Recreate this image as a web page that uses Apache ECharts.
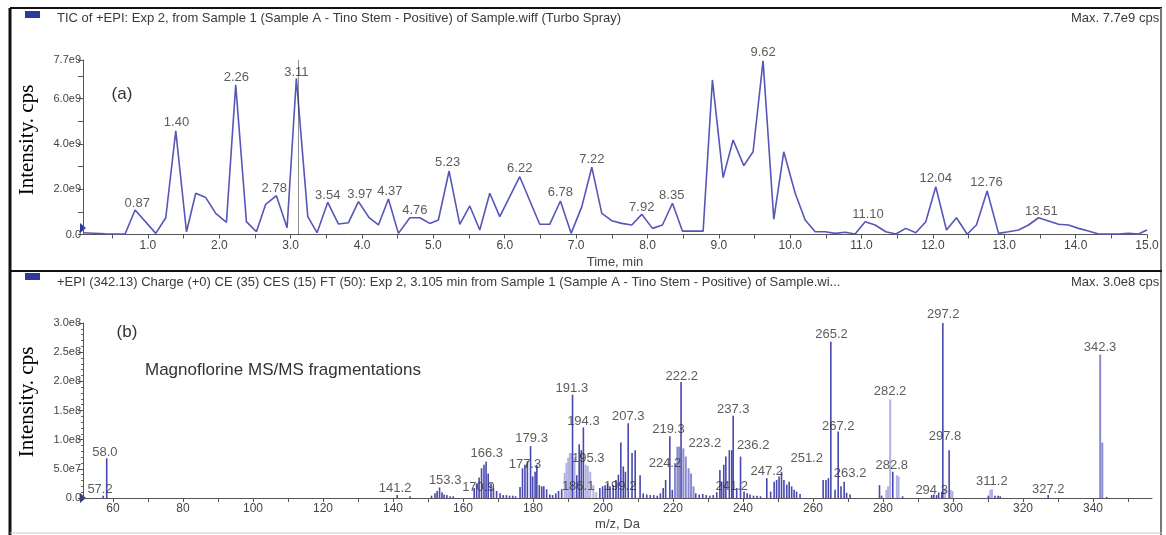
<!DOCTYPE html>
<html><head><meta charset="utf-8">
<script src="https://cdn.jsdelivr.net/npm/echarts@6/dist/echarts.min.js"></script>
<style>html,body{margin:0;padding:0;background:#fff}#c{width:1166px;height:535px}</style>
</head><body><div id="c"></div>
<script>
// ---------- Panel (a): TIC chromatogram (intensity in 1e9 cps) ----------
const ticTime = [0.09,0.40,0.68,0.82,1.11,1.25,1.39,1.54,1.67,1.81,1.95,2.10,2.23,2.38,2.52,2.65,2.80,2.95,3.08,3.24,3.37,3.52,3.67,3.81,3.95,4.10,4.23,4.37,4.51,4.67,4.81,4.95,5.07,5.22,5.37,5.51,5.65,5.79,5.93,6.21,6.49,6.63,6.78,6.93,7.08,7.22,7.36,7.50,7.64,7.78,7.92,8.07,8.21,8.35,8.49,8.63,8.78,8.91,9.06,9.20,9.35,9.48,9.62,9.77,9.91,10.07,10.21,10.35,10.49,10.63,10.77,10.91,11.05,11.19,11.34,11.48,11.62,11.76,11.90,12.04,12.19,12.33,12.48,12.61,12.76,12.92,13.06,13.20,13.34,13.48,13.62,13.76,13.90,14.04,14.18,14.32,14.46,14.60,14.74,14.88,15.00];
const ticIntensity = [0.08,0.03,0.02,1.08,0.05,0.74,4.57,0.12,1.82,1.63,0.93,0.54,6.60,0.57,0.12,1.33,1.71,0.30,6.89,0.79,0.08,1.42,0.46,0.52,1.45,0.74,0.42,1.57,0.05,0.74,0.74,0.49,0.64,2.80,0.45,1.26,0.20,1.82,0.79,2.55,0.45,0.45,1.48,0.05,1.23,2.97,0.93,0.61,0.49,0.42,0.89,0.27,0.42,1.38,0.15,0.15,0.15,6.82,2.51,4.17,3.04,3.65,7.66,0.67,3.65,1.82,0.64,0.12,0.12,0.05,0.10,0.02,0.56,0.42,0.12,0.02,0.27,0.08,0.56,2.11,0.20,0.74,0.01,0.42,1.92,0.05,0.12,0.20,0.42,0.74,0.60,0.45,0.42,0.27,0.15,0.02,0.02,0.02,0.05,0.02,0.20];
const ticPeakText = ['0.87','1.40','2.26','2.78','3.11','3.54','3.97','4.37','4.76','5.23','6.22','6.78','7.22','7.92','8.35','9.62','11.10','12.04','12.76','13.51'];
const ticPeakTime = [0.85,1.40,2.24,2.77,3.08,3.52,3.97,4.39,4.74,5.20,6.21,6.78,7.22,7.92,8.34,9.62,11.09,12.04,12.75,13.52];
const ticPeakLabelY = [1.39,4.93,6.92,2.05,7.13,1.71,1.79,1.89,1.08,3.16,2.93,1.84,3.33,1.21,1.71,8.02,0.90,2.49,2.29,1.04];
const ticXLabels = [1,2,3,4,5,6,7,8,9,10,11,12,13,14,15];
const ticYLabels = [0,2,4,6,7.7];
const selectedRT = 3.105;

// ---------- Panel (b): MS/MS spectrum (intensity in 1e7 cps) ----------
const darkMz = [57.2,58.2,141.2,144.9,151.0,152.0,152.6,153.3,154.0,154.6,155.4,156.3,157.2,
 163.2,163.9,164.6,165.3,166.0,166.6,167.2,168.0,168.7,169.6,170.6,171.5,172.4,173.3,174.2,175.0,
 176.3,177.0,177.7,178.4,179.3,179.9,180.6,181.1,181.8,182.5,183.1,183.9,184.8,185.6,186.5,187.3,188.2,
 191.3,192.5,193.2,193.8,194.4,199.1,199.9,200.6,201.3,202.0,202.9,203.7,204.4,205.1,205.8,206.4,207.2,208.3,209.2,210.6,211.5,212.5,213.5,214.5,215.5,216.4,
 217.2,217.9,219.1,219.8,222.3,226.5,227.5,228.5,229.5,230.5,231.5,232.5,
 233.4,233.9,234.5,235.1,236.1,236.8,237.2,238.2,239.3,240.3,241.2,242.0,243.0,244.0,245.0,
 246.8,247.9,248.9,249.6,250.3,251.0,251.7,252.5,253.2,253.9,254.6,255.3,256.3,
 262.9,263.7,264.4,265.1,266.3,267.2,268.0,268.9,269.6,270.6,279.0,279.6,282.8,285.6,
 293.9,294.5,295.3,295.9,296.8,297.1,298.9,310.1,312.0,312.9,313.5,327.2,343.9];
const darkInt = [0.4,6.8,0.5,0.3,0.4,0.8,1.2,1.8,1.0,0.6,0.5,0.3,0.3,
 1.7,2.5,3.5,5.1,5.7,6.2,4.2,2.5,1.7,1.2,0.8,0.5,0.5,0.4,0.4,0.3,
 1.9,5.1,5.7,6.3,8.9,3.7,4.5,5.7,2.2,2.0,2.0,1.5,0.6,0.5,0.8,1.2,1.5,
 17.7,3.9,9.2,8.2,12.1,1.7,2.0,2.2,2.5,2.0,2.2,3.1,4.0,9.5,5.4,4.5,12.8,7.7,8.2,3.9,0.8,0.6,0.5,0.5,0.4,0.8,
 1.7,3.1,10.6,1.4,19.9,0.8,0.6,0.7,0.5,0.4,0.5,1.0,
 4.8,2.8,5.7,7.1,8.2,8.2,14.1,1.7,7.1,1.1,0.8,0.6,0.4,0.4,0.3,
 3.4,1.1,2.8,3.1,3.7,4.5,3.1,2.3,2.8,2.0,1.4,1.1,0.7,
 3.1,3.1,3.4,26.8,1.4,11.4,2.0,2.8,0.9,0.6,2.2,0.4,4.5,0.3,
 0.5,0.6,0.5,0.8,1.0,30.0,8.2,0.4,0.4,0.4,0.3,0.5,0.2];
const lightMz = [189.0,189.5,190.0,190.5,191.0,191.8,195.0,195.6,196.3,197.2,198.0,280.9,281.4,282.0,283.9,284.4,297.7,299.3,299.8,310.6,311.1];
const lightInt = [4.3,6.0,6.9,7.7,7.7,7.0,5.7,5.5,4.5,2.2,1.0,1.4,2.0,16.9,3.9,3.7,1.5,1.4,1.2,1.4,1.5];
const midMz = [220.5,221.2,221.7,222.9,223.6,224.4,225.1,225.8,342.0,342.6];
const midInt = [6.0,8.8,8.8,8.5,7.1,5.1,4.2,2.0,24.6,9.5];
const msPeakText = ['58.0','57.2','141.2','153.3','166.3','170.9','177.3','179.3','191.3','194.3','195.3','186.1','199.2','207.3','219.3','222.2','223.2','224.2','237.3','236.2','241.2','247.2','251.2','263.2','265.2','267.2','282.2','282.8','297.2','297.8','294.3','311.2','327.2','342.3'];
const msPeakMz = [57.7,56.3,140.6,154.9,166.8,164.4,177.7,179.6,191.1,194.4,195.8,192.9,204.9,207.2,218.7,222.5,229.1,217.7,237.2,242.9,236.8,246.8,258.2,270.6,265.3,267.2,282.0,282.5,297.2,297.7,293.9,311.1,327.2,342.0];
const msPeakLabelY = [7.77,1.49,1.66,3.09,7.66,1.77,5.78,10.2,18.8,13.1,6.8,1.94,2.06,13.9,11.7,20.9,9.38,5.95,15.1,9.09,1.94,4.5,6.8,4.23,28.1,12.3,18.2,5.66,31.4,10.6,1.37,2.79,1.54,25.8];
const msXLabels = [60,80,100,120,140,160,180,200,220,240,260,280,300,320,340];
const msXTicks = [60,70,80,90,100,110,120,130,140,150,160,170,180,190,200,210,220,230,240,250,260,270,280,290,300,310,320,330,340,350];

const FONT = 'Liberation Sans, Arial, sans-serif';
const zip = (a, b) => a.map((v, i) => [v, b[i]]);
const sci = (v, unitExp) => {
  if (v === 0) return '0.0';
  const real = v * Math.pow(10, unitExp);
  const e = Math.floor(Math.log10(real) + 1e-9);
  return (real / Math.pow(10, e)).toFixed(1) + 'e' + e;
};
const tickStyle = {show: true, length: 5, lineStyle: {color: '#555'}};
const axisLineStyle = {show: true, lineStyle: {color: '#555', width: 1}};
const labelStyle = {color: '#444', fontFamily: FONT, fontSize: 12};
const nameStyle = {color: '#444', fontFamily: FONT, fontSize: 13};

const chart = echarts.init(document.getElementById('c'), null, {renderer: 'canvas'});
chart.setOption({
  animation: false,
  backgroundColor: '#fff',
  grid: [
    {left: 83, right: 19, top: 60, bottom: 300.5},
    {left: 83, right: 14, top: 323, bottom: 37}
  ],
  xAxis: [
    {type: 'value', gridIndex: 0, min: 0.09, max: 15.0,
     axisLine: axisLineStyle, splitLine: {show: false},
     axisTick: Object.assign({customValues: ticXLabels.flatMap(v => [v - 0.5, v])}, tickStyle, {length: 4}),
     axisLabel: Object.assign({customValues: ticXLabels, margin: 5, formatter: v => v.toFixed(1)}, labelStyle),
     name: 'Time, min', nameLocation: 'middle', nameGap: 21, nameTextStyle: nameStyle},
    {type: 'value', gridIndex: 1, min: 51.43, max: 356.86,
     axisLine: axisLineStyle, splitLine: {show: false},
     axisTick: Object.assign({customValues: msXTicks}, tickStyle, {length: 4}),
     axisLabel: Object.assign({customValues: msXLabels, margin: 5}, labelStyle),
     name: 'm/z, Da', nameLocation: 'middle', nameGap: 20, nameTextStyle: nameStyle}
  ],
  yAxis: [
    {type: 'value', gridIndex: 0, min: 0, max: 7.7,
     axisLine: axisLineStyle, splitLine: {show: false},
     axisTick: Object.assign({customValues: [0,1,2,3,4,5,6,7,7.7]}, tickStyle),
     axisLabel: Object.assign({customValues: ticYLabels, margin: 2, formatter: v => sci(v, 9)}, labelStyle, {fontSize: 11})},
    {type: 'value', gridIndex: 1, min: 0, max: 30, interval: 5,
     axisLine: axisLineStyle, splitLine: {show: false},
     axisTick: tickStyle,
     minorTick: {show: true, splitNumber: 5, length: 2, lineStyle: {color: '#666'}},
     axisLabel: Object.assign({margin: 2, formatter: v => sci(v, 7)}, labelStyle, {fontSize: 11})}
  ],
  series: [
    {type: 'line', xAxisIndex: 0, yAxisIndex: 0, data: zip(ticTime, ticIntensity),
     symbol: 'none', lineStyle: {color: '#5656b8', width: 1.6},
     markLine: {silent: true, symbol: 'none', label: {show: false},
       lineStyle: {type: 'dotted', color: '#222', width: 1},
       data: [{xAxis: selectedRT}]}},
    {type: 'scatter', xAxisIndex: 0, yAxisIndex: 0, symbolSize: 0, clip: false, silent: true,
     data: ticPeakText.map((t, i) => ({name: t, value: [ticPeakTime[i], ticPeakLabelY[i]]})),
     label: {show: true, position: 'inside', formatter: '{b}', color: '#333', fontFamily: FONT, fontSize: 13}},
    {type: 'bar', xAxisIndex: 1, yAxisIndex: 1, data: zip(lightMz, lightInt), barWidth: 2, barGap: '-100%',
     itemStyle: {color: '#b2b2e0'}},
    {type: 'bar', xAxisIndex: 1, yAxisIndex: 1, data: zip(midMz, midInt), barWidth: 2, barGap: '-100%',
     itemStyle: {color: '#8a8ad0'}},
    {type: 'bar', xAxisIndex: 1, yAxisIndex: 1, data: zip(darkMz, darkInt), barWidth: 1.6, barGap: '-100%',
     itemStyle: {color: '#4848b0'}},
    {type: 'scatter', xAxisIndex: 1, yAxisIndex: 1, symbolSize: 0, clip: false, silent: true,
     data: msPeakText.map((t, i) => ({name: t, value: [msPeakMz[i], msPeakLabelY[i]]})),
     label: {show: true, position: 'inside', formatter: '{b}', color: '#333', fontFamily: FONT, fontSize: 13}}
  ],
  graphic: [
    // headers
    {type: 'rect', shape: {x: 25, y: 11, width: 15, height: 7}, style: {fill: '#2b3a9c'}},
    {type: 'text', x: 57, y: 18, style: {text: 'TIC of +EPI: Exp 2, from Sample 1 (Sample A - Tino Stem - Positive) of Sample.wiff (Turbo Spray)', fill: '#3a3a3a', font: '13px ' + FONT, verticalAlign: 'middle'}},
    {type: 'text', x: 1071, y: 18, style: {text: 'Max. 7.7e9 cps.', fill: '#3a3a3a', font: '13px ' + FONT, verticalAlign: 'middle'}},
    {type: 'rect', shape: {x: 25, y: 273, width: 15, height: 7}, style: {fill: '#2b3a9c'}},
    {type: 'text', x: 57, y: 282, style: {text: '+EPI (342.13) Charge (+0) CE (35) CES (15) FT (50): Exp 2, 3.105 min from Sample 1 (Sample A - Tino Stem - Positive) of Sample.wi...', fill: '#3a3a3a', font: '13px ' + FONT, verticalAlign: 'middle'}},
    {type: 'text', x: 1071, y: 282, style: {text: 'Max. 3.0e8 cps.', fill: '#3a3a3a', font: '13px ' + FONT, verticalAlign: 'middle'}},
    // panel annotations
    {type: 'text', x: 122, y: 94, style: {text: '(a)', fill: '#333', font: '17px ' + FONT, align: 'center', verticalAlign: 'middle'}},
    {type: 'text', x: 127, y: 332, style: {text: '(b)', fill: '#333', font: '17px ' + FONT, align: 'center', verticalAlign: 'middle'}},
    {type: 'text', x: 145, y: 370, style: {text: 'Magnoflorine MS/MS fragmentations', fill: '#333', font: '17px ' + FONT, verticalAlign: 'middle'}},
    {type: 'text', x: 27, y: 140, rotation: Math.PI / 2, style: {text: 'Intensity. cps', fill: '#000', font: '21px Liberation Serif, Times New Roman, serif', align: 'center', verticalAlign: 'middle'}},
    {type: 'text', x: 27, y: 402, rotation: Math.PI / 2, style: {text: 'Intensity. cps', fill: '#000', font: '21px Liberation Serif, Times New Roman, serif', align: 'center', verticalAlign: 'middle'}},
    // origin markers
    {type: 'polygon', shape: {points: [[80, 223], [86, 228], [80, 233]]}, style: {fill: '#2b3a9c'}},
    {type: 'polygon', shape: {points: [[80, 493], [86, 498], [80, 503]]}, style: {fill: '#2b3a9c'}},
    // frame (drawn last)
    {type: 'rect', shape: {x: 1162, y: 0, width: 4, height: 535}, style: {fill: '#fff'}},
    {type: 'line', shape: {x1: 10, y1: 8, x2: 1162, y2: 8}, style: {stroke: '#111', lineWidth: 2}},
    {type: 'line', shape: {x1: 10, y1: 8, x2: 10, y2: 535}, style: {stroke: '#111', lineWidth: 3}},
    {type: 'line', shape: {x1: 1161, y1: 8, x2: 1161, y2: 535}, style: {stroke: '#777', lineWidth: 2}},
    {type: 'line', shape: {x1: 10, y1: 271, x2: 1162, y2: 271}, style: {stroke: '#111', lineWidth: 2}},
    {type: 'line', shape: {x1: 10, y1: 533, x2: 1162, y2: 533}, style: {stroke: '#ccc', lineWidth: 1}}
  ]
});
</script></body></html>
